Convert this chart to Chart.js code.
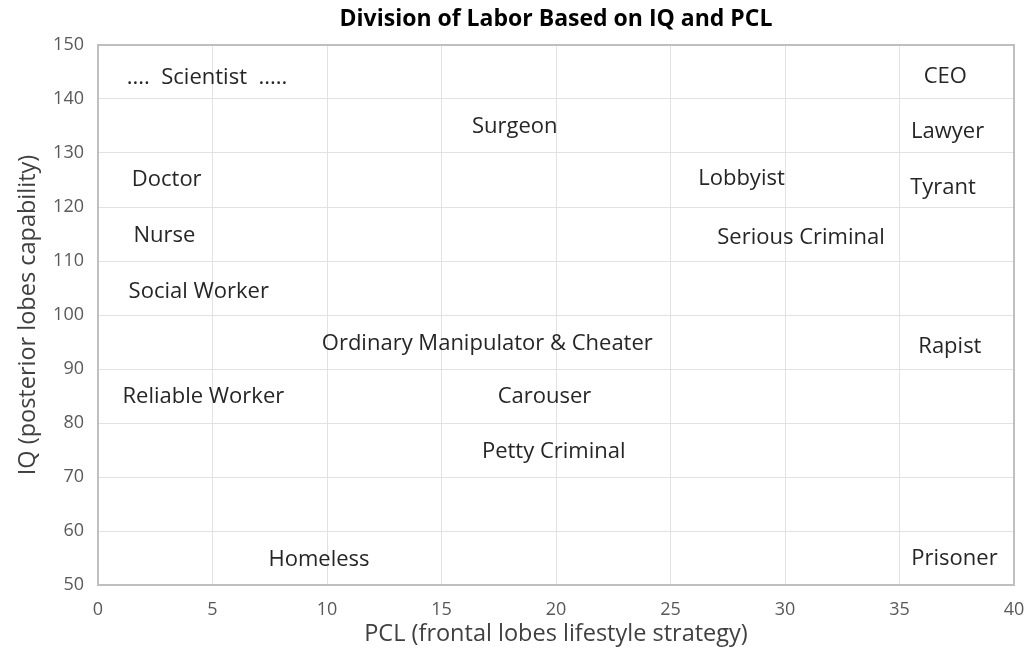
<!DOCTYPE html>
<html>
<head>
<meta charset="utf-8">
<script src="https://cdn.jsdelivr.net/npm/chart.js@4.4.1/dist/chart.umd.min.js"></script>
<style>
html,body{margin:0;padding:0;background:#fff;}
#wrap{width:1033px;height:662px;}
</style>
</head>
<body>
<div id="wrap"><canvas id="c" width="1033" height="662"></canvas></div>
<script>
const labels = ["....  Scientist  .....","Surgeon","Doctor","Nurse","Social Worker","Ordinary Manipulator & Cheater","Reliable Worker","Carouser","Petty Criminal","Homeless","Lobbyist","Serious Criminal","CEO","Lawyer","Tyrant","Rapist","Prisoner"];
const pclValues = [4.76,18.2,3.0,2.9,4.4,17.0,4.6,19.5,19.9,9.65,28.1,30.7,37.0,37.1,36.9,37.2,37.4];
const iqValues = [143.9,134.8,125.0,114.6,104.4,94.6,84.8,84.8,74.6,54.6,125.2,114.3,144.1,133.9,123.5,94.1,54.8];
const xTicks = [0,5,10,15,20,25,30,35,40];
const yTicks = [50,60,70,80,90,100,110,120,130,140,150];
const titleText = "Division of Labor Based on IQ and PCL";
const xTitle = "PCL (frontal lobes lifestyle strategy)";
const yTitle = "IQ (posterior lobes capability)";

const FONT = "'Open Sans', 'Noto Sans', sans-serif";

const points = pclValues.map((x,i)=>({x:x,y:iqValues[i]}));

const labelPlugin = {
  id:'labelPlugin',
  afterDatasetsDraw(chart){
    const ctx = chart.ctx;
    const meta = chart.getDatasetMeta(0);
    ctx.save();
    ctx.font = "22px " + FONT;
    ctx.fillStyle = "#262626";
    ctx.textAlign = "center";
    ctx.textBaseline = "middle";
    meta.data.forEach((el,i)=>{
      ctx.fillText(labels[i], el.x, el.y);
    });
    ctx.restore();
  },
  afterDraw(chart){
    const ctx = chart.ctx;
    const a = chart.chartArea;
    ctx.save();
    ctx.strokeStyle = "#bfbfbf";
    ctx.lineWidth = 2;
    ctx.strokeRect(a.left, a.top, a.right-a.left, a.bottom-a.top);
    ctx.font = "bold 23px " + FONT;
    ctx.fillStyle = "#000000";
    ctx.textAlign = "center";
    ctx.textBaseline = "middle";
    ctx.fillText(titleText, (a.left+a.right)/2, 19);
    ctx.restore();
  }
};

new Chart(document.getElementById('c'), {
  type:'scatter',
  data:{datasets:[{data:points,pointRadius:0,pointHoverRadius:0,showLine:false}]},
  options:{
    responsive:false,
    animation:false,
    events:[],
    layout:{padding:{top:45,right:19,left:10,bottom:10}},
    plugins:{legend:{display:false},tooltip:{enabled:false},title:{display:false}},
    scales:{
      x:{
        type:'linear',min:0,max:40,
        afterBuildTicks(s){ s.ticks = xTicks.map(v=>({value:v})); },
        afterFit(s){ s.height = 67; s.paddingLeft = 0; s.paddingRight = 0; },
        grid:{color:'#e2e2e2',lineWidth:1,drawTicks:false},
        border:{display:false},
        ticks:{color:'#595959',font:{family:FONT,size:18},padding:14},
        title:{display:true,text:xTitle,color:'#404040',font:{family:FONT,size:23.5},padding:{top:3}}
      },
      y:{
        type:'linear',min:50,max:150,
        afterBuildTicks(s){ s.ticks = yTicks.map(v=>({value:v})); },
        afterFit(s){ s.width = 88; s.paddingTop = 0; s.paddingBottom = 0; },
        grid:{color:'#e2e2e2',lineWidth:1,drawTicks:false},
        border:{display:false},
        ticks:{color:'#595959',font:{family:FONT,size:18},padding:14},
        title:{display:true,text:yTitle,color:'#404040',font:{family:FONT,size:23.5},padding:{bottom:4}}
      }
    }
  },
  plugins:[labelPlugin]
});
</script>
</body>
</html>
